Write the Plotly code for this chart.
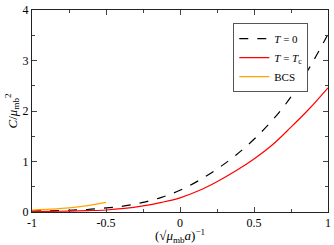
import plotly.graph_objects as go

x_t0 = [-1.0, -0.875, -0.75, -0.625, -0.5, -0.375, -0.25, -0.125, 0.0, 0.125, 0.25, 0.375, 0.5, 0.625, 0.75, 0.875, 1.0]
y_t0 = [0.02, 0.025, 0.035, 0.05, 0.08, 0.12, 0.19, 0.29, 0.43, 0.62, 0.85, 1.12, 1.44, 1.82, 2.28, 2.86, 3.52]

x_tc = [-1.0, -0.875, -0.75, -0.625, -0.5, -0.375, -0.25, -0.125, 0.0, 0.125, 0.25, 0.375, 0.5, 0.625, 0.75, 0.875, 1.0]
y_tc = [0.01, 0.012, 0.018, 0.027, 0.04, 0.07, 0.12, 0.19, 0.28, 0.42, 0.6, 0.81, 1.05, 1.33, 1.68, 2.05, 2.46]

x_bcs = [-1.0, -0.875, -0.75, -0.625, -0.5]
y_bcs = [0.04, 0.055, 0.08, 0.125, 0.19]

x_ticks = [-1, -0.5, 0, 0.5, 1]
x_ticklabels = ["-1", "-0.5", "0", "0.5", "1"]
y_ticks = [0, 1, 2, 3, 4]
y_ticklabels = ["0", "1", "2", "3", "4"]

font = "Liberation Serif"

fig = go.Figure()
fig.add_trace(go.Scatter(x=x_t0, y=y_t0, mode="lines", line=dict(color="black", width=1.2, dash="dash", shape="spline"),
                         name="<i>T</i> = 0"))
fig.add_trace(go.Scatter(x=x_tc, y=y_tc, mode="lines", line=dict(color="#ff0000", width=1.2, shape="spline"),
                         name="<i>T</i> = <i>T</i><sub>c</sub>"))
fig.add_trace(go.Scatter(x=x_bcs, y=y_bcs, mode="lines", line=dict(color="#ffa500", width=1.2, shape="spline"),
                         name="BCS"))

axis_common = dict(showline=True, linecolor="#222", linewidth=1, mirror="ticks", ticks="inside",
                   ticklen=5, tickcolor="#444", showgrid=False, zeroline=False,
                   tickfont=dict(family=font, size=12, color="black"))

fig.update_xaxes(range=[-1, 1], tickvals=x_ticks, ticktext=x_ticklabels,
                 minor=dict(dtick=0.25, ticks="inside", ticklen=3, tickcolor="#444"),
                 title=dict(text="(√<i>μ</i><sub>mb</sub><i>a</i>)<sup>−1</sup>",
                            font=dict(family=font, size=13, color="black"), standoff=2),
                 **axis_common)
fig.update_yaxes(range=[0, 4], tickvals=y_ticks, ticktext=y_ticklabels,
                 minor=dict(dtick=0.5, ticks="inside", ticklen=3, tickcolor="#444"),
                 title=dict(text="<i>C</i>/<i>μ</i><sub>mb</sub><sup>2</sup>",
                            font=dict(family=font, size=13, color="black"), standoff=2),
                 **axis_common)

fig.update_layout(
    width=334, height=245,
    margin=dict(l=32, r=3, t=7, b=32),
    plot_bgcolor="white", paper_bgcolor="white",
    font=dict(family=font, size=12, color="black"),
    legend=dict(x=0.68, y=0.935, xanchor="left", yanchor="top",
                bordercolor="#555", borderwidth=1, bgcolor="white",
                font=dict(family=font, size=11), tracegroupgap=0,
                itemwidth=30),
    showlegend=True,
)

fig.write_html("out.html", config={"displayModeBar": False},
               post_script="document.body.style.margin='0px';")
